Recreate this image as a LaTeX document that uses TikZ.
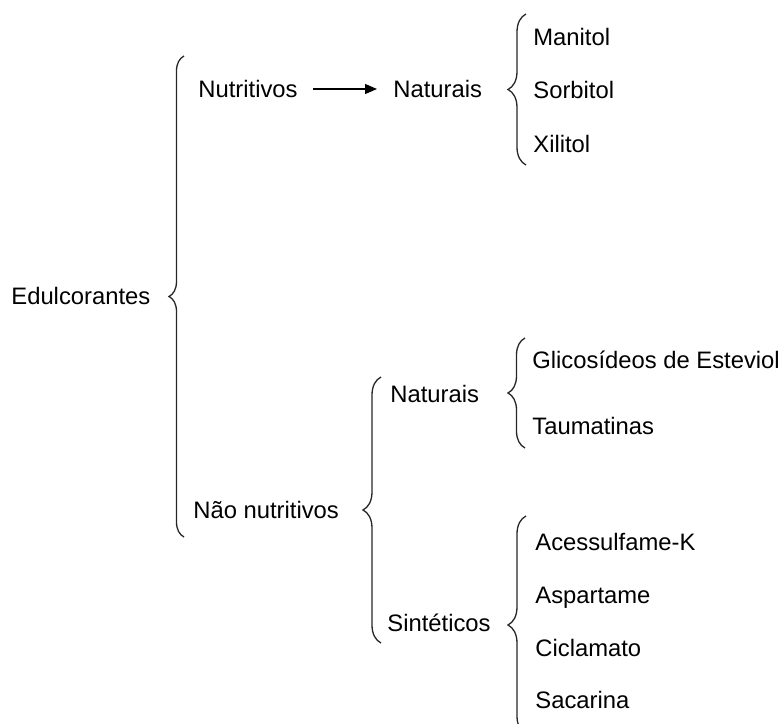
\documentclass[tikz,border=0pt]{standalone}
\usepackage{fontspec}
\setmainfont{Liberation Sans}
\usetikzlibrary{arrows.meta,decorations.pathreplacing}

\tikzset{
    item/.style={inner sep=0pt, anchor=west, text height=8.5pt, text depth=0pt,
        font=\fontsize{11.9}{14}\selectfont},
    chave/.style={decorate, decoration={brace, amplitude=#1}, line width=0.65pt, draw=black!85},
    chave/.default=7.5pt,
    seta/.style={-{Triangle[length=6pt,width=5pt]}, line width=0.6pt}
}

\begin{document}
\begin{tikzpicture}[x=0.5pt,y=-0.5pt]
    \useasboundingbox (0,0) rectangle (784,724);
    % first level
    \node [item] (edul) at (11,296) {Edulcorantes};
    \node [item] (nutri) at (198,89) {Nutritivos};
    \node [item] (naonut) at (193,510) {Não nutritivos};
    % nutritivos
    \node [item] (natA) at (393,89) {Naturais};
    \node [item] (mani) at (533,37) {Manitol};
    \node [item] (sorb) at (533,90) {Sorbitol};
    \node [item] (xili) at (533,144) {Xilitol};
    % nao nutritivos
    \node [item] (natB) at (390,394) {Naturais};
    \node [item] (glic) at (532,360) {Glicosídeos de Esteviol};
    \node [item] (taum) at (532,426) {Taumatinas};
    \node [item] (sint) at (387,623) {Sintéticos};
    \node [item] (aces) at (535,542) {Acessulfame-K};
    \node [item] (aspa) at (535,595) {Aspartame};
    \node [item] (cicl) at (535,648) {Ciclamato};
    \node [item] (saca) at (535,700) {Sacarina};
    % braces
    \coordinate (c1a) at (184,537);
    \coordinate (c1b) at (184,56);
    \coordinate (c2a) at (526,165);
    \coordinate (c2b) at (526,14);
    \coordinate (c3a) at (381,643);
    \coordinate (c3b) at (381,377);
    \coordinate (c4a) at (525,448);
    \coordinate (c4b) at (525,338);
    \coordinate (c5a) at (526,734);
    \coordinate (c5b) at (526,516);
    \draw [chave] (c1a) -- (c1b);
    \draw [chave=9pt] (c2a) -- (c2b);
    \draw [chave=9pt] (c3a) -- (c3b);
    \draw [chave=8.5pt] (c4a) -- (c4b);
    \draw [chave=9pt] (c5a) -- (c5b);
    \draw [seta, shorten <=7.5pt, shorten >=8pt] (nutri) -- (natA);
\end{tikzpicture}
\end{document}
